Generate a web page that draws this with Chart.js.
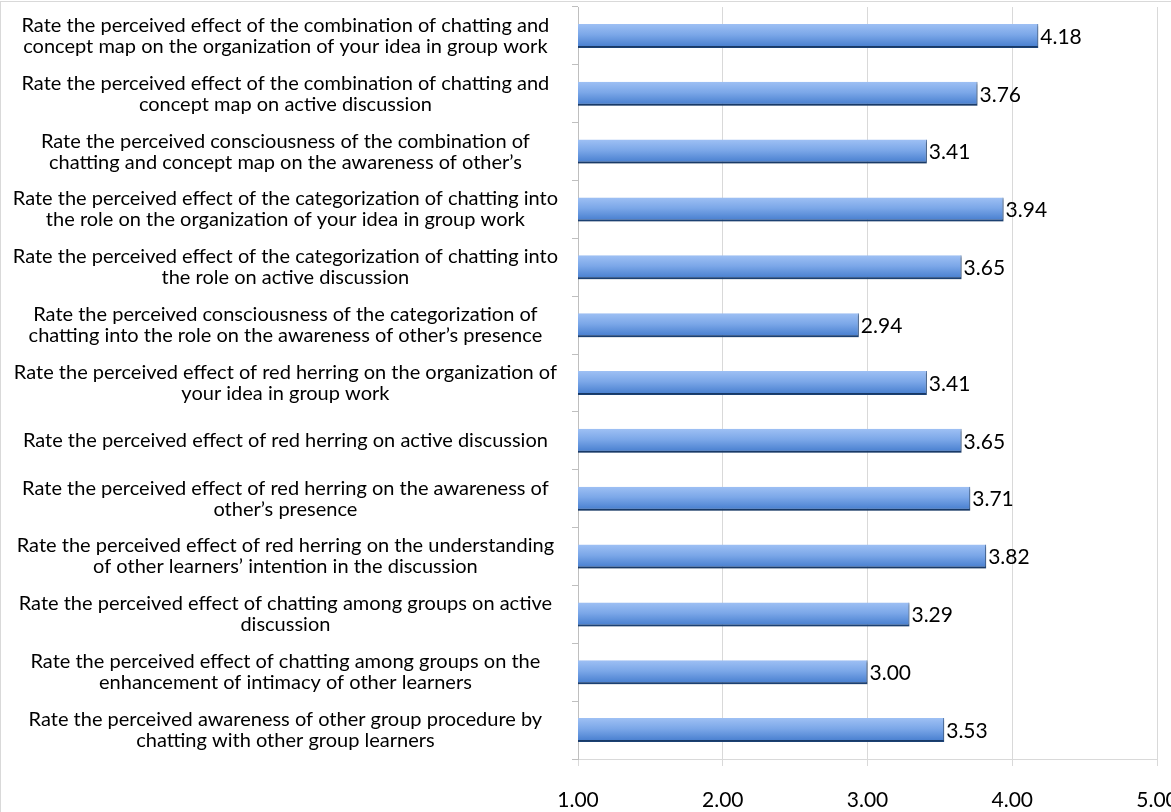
<!DOCTYPE html>
<html>
<head>
<meta charset="utf-8">
<script src="https://cdn.jsdelivr.net/npm/chart.js@4/dist/chart.umd.min.js"></script>
<style>
  html, body { margin: 0; padding: 0; background: #fff; }
  #wrap { width: 1171px; height: 812px; }
</style>
</head>
<body>
<div id="wrap"><canvas id="ratingChart" width="1171" height="812"></canvas></div>
<script>
// --- data ---
const questions = [
    ["Rate the perceived effect of the combination of chatting and", "concept map on the organization of your idea in group work"],
    ["Rate the perceived effect of the combination of chatting and", "concept map on active discussion"],
    ["Rate the perceived consciousness of the combination of", "chatting and concept map on the awareness of other\u2019s"],
    ["Rate the perceived effect of the categorization of chatting into", "the role on the organization of your idea in group work"],
    ["Rate the perceived effect of the categorization of chatting into", "the role on active discussion"],
    ["Rate the perceived consciousness of the categorization of", "chatting into the role on the awareness of other\u2019s presence"],
    ["Rate the perceived effect of red herring on the organization of", "your idea in group work"],
    "Rate the perceived effect of red herring on active discussion",
    ["Rate the perceived effect of red herring on the awareness of", "other\u2019s presence"],
    ["Rate the perceived effect of red herring on the understanding", "of other learners\u2019 intention in the discussion"],
    ["Rate the perceived effect of chatting among groups on active", "discussion"],
    ["Rate the perceived effect of chatting among groups on the", "enhancement of intimacy of other learners"],
    ["Rate the perceived awareness of other group procedure by", "chatting with other group learners"]
];

const meanScores = [4.18, 3.76, 3.41, 3.94, 3.65, 2.94, 3.41, 3.65, 3.71, 3.82, 3.29, 3.00, 3.53];

const scaleMin = 1;
const scaleMax = 5;

const FONT = "Lato, Carlito, Calibri, 'Open Sans', sans-serif";

// blue gradient per bar, like the Excel style
function barGradient(context) {
    const chart = context.chart;
    const yScale = chart.scales.y;
    if (!yScale || context.dataIndex === undefined) return "#6f9de3";
    const cy = yScale.getPixelForValue(context.dataIndex);
    if (!Number.isFinite(cy)) return "#6f9de3";
    const g = chart.ctx.createLinearGradient(0, cy - 12, 0, cy + 12);
    g.addColorStop(0, "#9ec0f4");
    g.addColorStop(0.45, "#7ba7e8");
    g.addColorStop(1, "#437bcd");
    return g;
}

const backgroundPlugin = {
    id: "background",
    beforeDraw(chart) {
        const ctx = chart.ctx;
        ctx.save();
        ctx.fillStyle = "#ffffff";
        ctx.fillRect(0, 0, chart.width, chart.height);
        // frame: only top and left edges fall inside the picture
        ctx.strokeStyle = "#d9d9d9";
        ctx.lineWidth = 1;
        ctx.strokeRect(0.5, 1.5, chart.width + 10, chart.height + 10);
        ctx.restore();
    }
};

// soft grey shadow under the bars
const barShadow = {
    id: "barShadow",
    beforeDatasetsDraw(chart) {
        const ctx = chart.ctx;
        ctx.save();
        ctx.shadowColor = "rgba(0, 0, 0, 0.3)";
        ctx.shadowOffsetX = 1;
        ctx.shadowOffsetY = 2;
        ctx.shadowBlur = 2;
    },
    afterDatasetsDraw(chart) {
        chart.ctx.restore();
    }
};

const valueLabels = {
    id: "valueLabels",
    afterDatasetsDraw(chart) {
        const ctx = chart.ctx;
        const meta = chart.getDatasetMeta(0);
        ctx.save();
        ctx.font = "21px " + FONT;
        ctx.fillStyle = "#000";
        ctx.textAlign = "left";
        ctx.textBaseline = "middle";
        meta.data.forEach((bar, i) => {
            ctx.fillText(meanScores[i].toFixed(2), bar.x + 2, bar.y + 1);
        });
        ctx.restore();
    }
};

new Chart(document.getElementById("ratingChart"), {
    type: "bar",
    data: {
        labels: questions,
        datasets: [{
            data: meanScores,
            backgroundColor: barGradient,
            borderColor: "#22508f",
            borderWidth: { top: 0, right: 1, bottom: 2, left: 0 },
            borderSkipped: "start",
            categoryPercentage: 1,
            barPercentage: 0.415
        }]
    },
    options: {
        indexAxis: "y",
        responsive: false,
        animation: false,
        layout: { padding: { top: 7, right: 14, bottom: 0, left: 0 } },
        plugins: {
            legend: { display: false },
            tooltip: { enabled: false }
        },
        scales: {
            x: {
                min: scaleMin,
                max: scaleMax,
                ticks: {
                    stepSize: 1,
                    color: "#000",
                    font: { family: FONT, size: 21 },
                    padding: 22,
                    maxRotation: 0,
                    callback: (v) => Number(v).toFixed(2)
                },
                grid: {
                    color: "#d9d9d9",
                    tickColor: "#d9d9d9",
                    tickLength: 7
                },
                border: { color: "#d9d9d9" },
                afterFit(scale) {
                    scale.paddingLeft = 0;
                    scale.paddingRight = 0;
                    scale.height = 53;
                }
            },
            y: {
                ticks: {
                    color: "#000",
                    font: { family: FONT, size: 20, lineHeight: 1.05 },
                    crossAlign: "center",
                    padding: 14,
                    autoSkip: false
                },
                grid: {
                    drawOnChartArea: false,
                    color: "#bfbfbf",
                    tickLength: 6
                },
                border: { color: "#bfbfbf" },
                afterFit(scale) {
                    scale.paddingTop = 0;
                    scale.paddingBottom = 0;
                    scale.width = 578;
                }
            }
        }
    },
    plugins: [backgroundPlugin, barShadow, valueLabels]
});
</script>
</body>
</html>
